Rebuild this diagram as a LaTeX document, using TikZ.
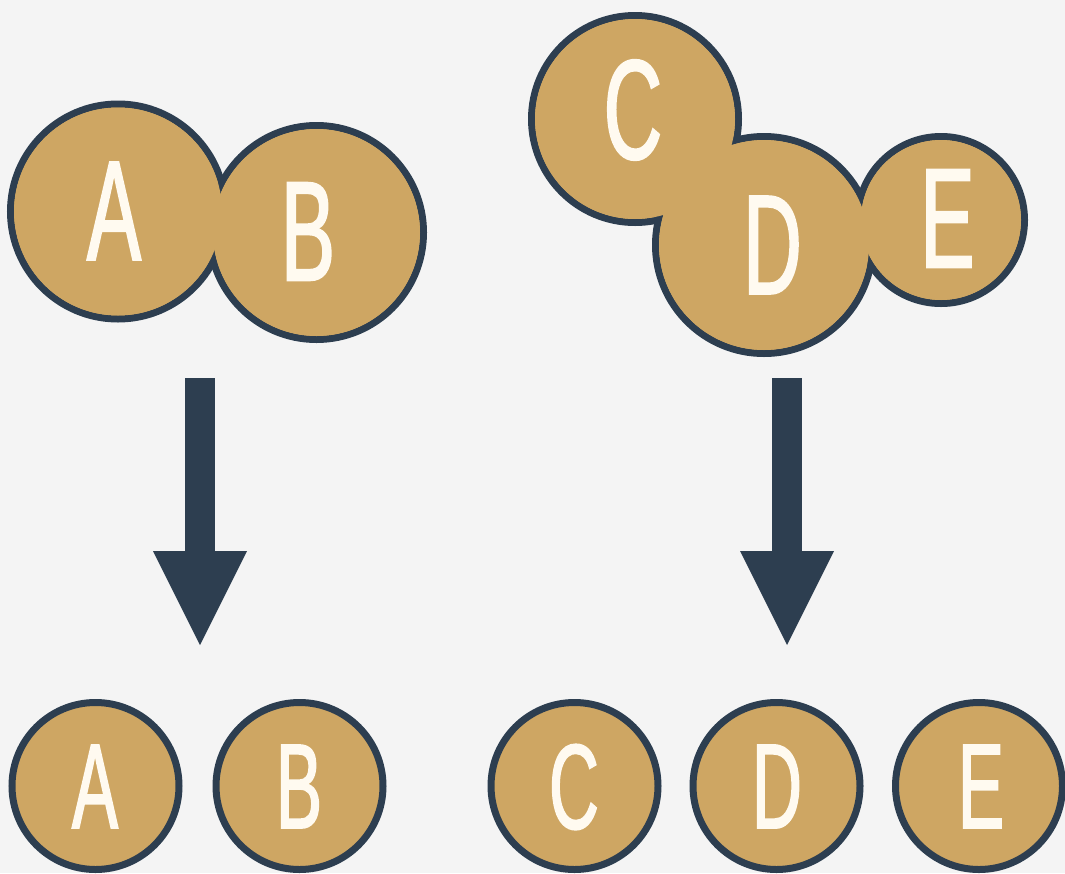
\documentclass[tikz,border=0pt]{standalone}
\usepackage{fontspec}
\usetikzlibrary{arrows.meta}
\newfontfamily\letterfont[FakeStretch=0.57,FakeBold=1.3]{Liberation Sans}
\definecolor{paper}{HTML}{F4F4F4}
\definecolor{gold}{HTML}{CEA663}
\definecolor{navy}{HTML}{2D3E50}
\definecolor{cream}{HTML}{FFFAF0}
\tikzset{
  bubble/.style={circle, draw=navy, fill=gold, line width=7pt, inner sep=0pt, minimum size=#1},
  core/.style={fill=gold},
  bigletter/.style={text=cream, inner sep=0pt, font=\letterfont\fontsize{142}{142}\selectfont},
  smallletter/.style={text=cream, inner sep=0pt, font=\letterfont\fontsize{121}{121}\selectfont},
  downarrow/.style={draw=navy, line width=30pt, -{Triangle[width=94pt,length=94pt,line width=0pt]}}
}
\begin{document}
\begin{tikzpicture}[x=1pt,y=-1pt]
  % canvas
  \fill[paper] (0,0) rectangle (1065,873);
  \useasboundingbox (0,0) rectangle (1065,873);

  % ---- fused pair A-B: outlines first, then the inner fill hides the seams
  \node[bubble=215pt] (cA) at (118,211.5) {};
  \node[bubble=214pt] (cB) at (316.5,232.5) {};
  \fill[core] (cA.center) circle[radius=104pt];
  \fill[core] (cB.center) circle[radius=103.5pt];
  \node[bigletter] (tA) at (114,211) {A};
  \node[bigletter] (tB) at (308,231.5) {B};

  % ---- fused chain C-D-E
  \node[bubble=207pt] (cC) at (635,119) {};
  \node[bubble=217pt] (cD) at (764,245) {};
  \node[bubble=167pt] (cE) at (941,220) {};
  \fill[core] (cC.center) circle[radius=100pt];
  \fill[core] (cD.center) circle[radius=105pt];
  \fill[core] (cE.center) circle[radius=80pt];
  \node[bigletter] (tC) at (633,110) {C};
  \node[bigletter] (tD) at (772.5,245) {D};
  \node[bigletter] (tE) at (947.5,218.5) {E};

  % ---- arrows
  \coordinate (l1) at (200,378);
  \coordinate (l2) at (200,645);
  \coordinate (r1) at (787,378);
  \coordinate (r2) at (787,645);
  \draw[downarrow] (l1) -- (l2);
  \draw[downarrow] (r1) -- (r2);

  % ---- separated circles
  \node[bubble=167pt] (sA) at (95.5,786) {};
  \node[bubble=167pt] (sB) at (299.5,786) {};
  \node[bubble=167pt] (sC) at (574.5,786) {};
  \node[bubble=167pt] (sD) at (776.5,786) {};
  \node[bubble=167pt] (sE) at (979,786) {};
  \node[smallletter] (uA) at (95,786.5) {A};
  \node[smallletter] (uB) at (299,786.5) {B};
  \node[smallletter] (uC) at (574,787) {C};
  \node[smallletter] (uD) at (777,786.5) {D};
  \node[smallletter] (uE) at (981,786.5) {E};
\end{tikzpicture}
\end{document}
